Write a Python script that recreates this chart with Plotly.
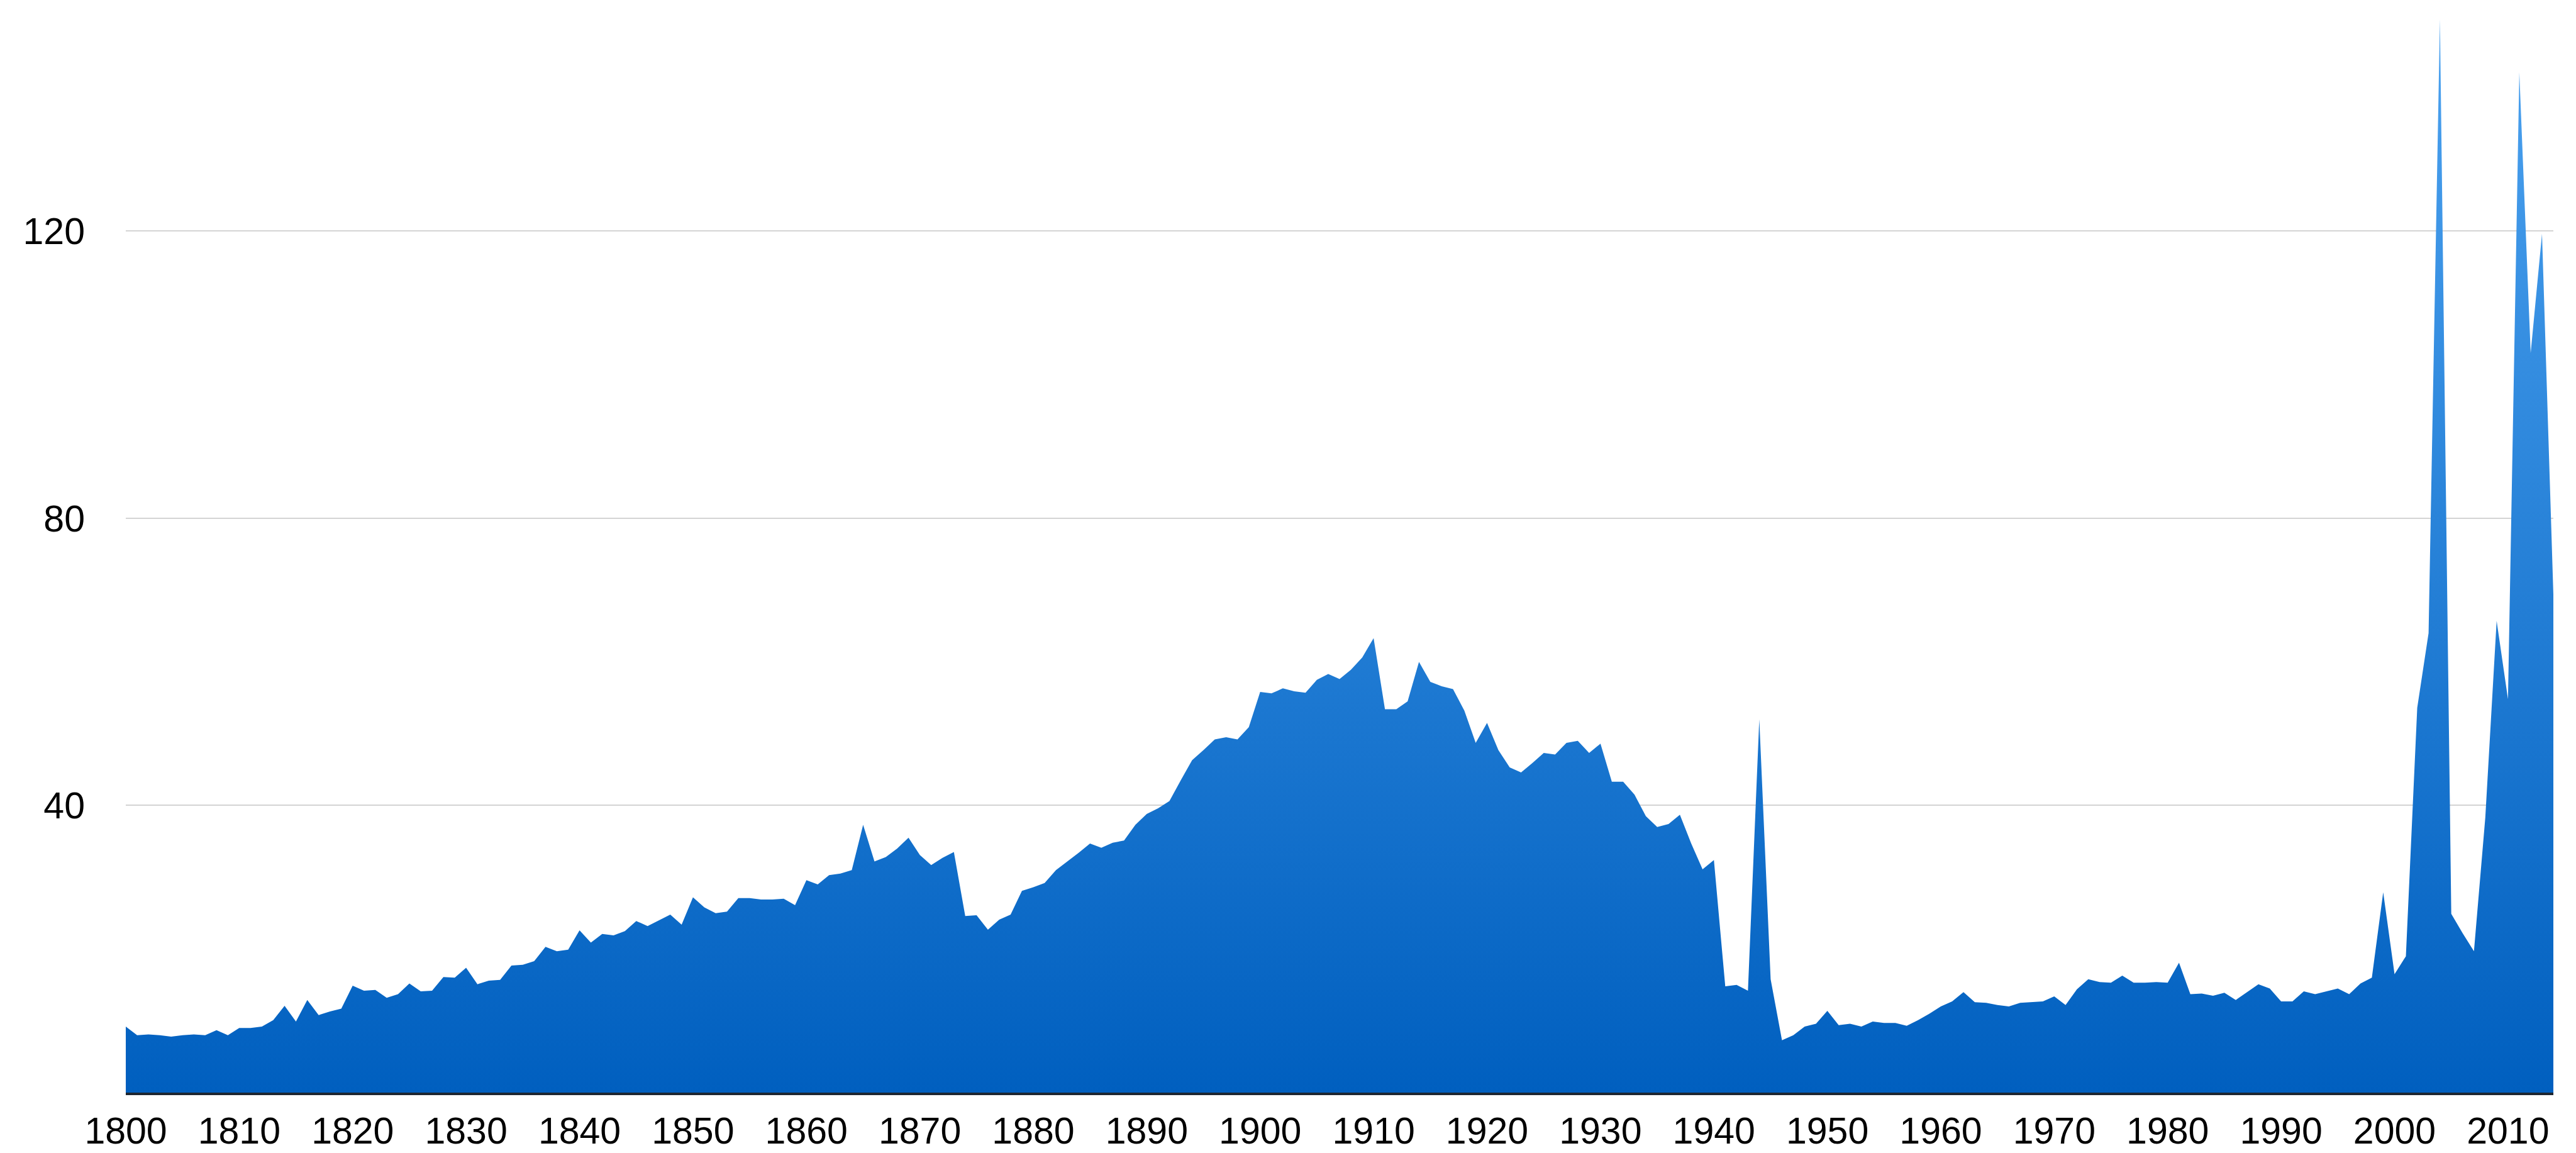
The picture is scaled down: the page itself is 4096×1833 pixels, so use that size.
import plotly.graph_objects as go

# ---- data ----
years = list(range(1800, 2015))

values_1800_1831 = [9.2, 8.0, 8.1, 8.0, 7.8, 8.0, 8.1, 8.0, 8.7, 8.0, 9.0, 9.0, 9.2, 10.1, 12.1, 9.9,
                    12.9, 10.8, 11.3, 11.7, 14.9, 14.2, 14.3, 13.2, 13.7, 15.2, 14.1, 14.2, 16.1, 16.0,
                    17.4, 15.1]
values_1832_1865 = [15.6, 15.7, 17.7, 17.8, 18.3, 20.3, 19.7, 19.9, 22.6, 20.9, 22.1, 21.9, 22.5, 23.9,
                    23.2, 24.0, 24.8, 23.4, 27.2, 25.8, 25.0, 25.2, 27.1, 27.1, 26.9, 26.9, 27.0, 26.1,
                    29.6, 29.0, 30.3, 30.5, 31.0, 37.3]
values_1866_1899 = [32.2, 32.8, 34.0, 35.5, 33.1, 31.7, 32.7, 33.5, 24.6, 24.7, 22.7, 24.1, 24.8, 28.1,
                    28.6, 29.2, 31.0, 32.2, 33.4, 34.7, 34.1, 34.8, 35.1, 37.3, 38.8, 39.6, 40.6, 43.5,
                    46.3, 47.7, 49.2, 49.5, 49.2, 50.9]
values_1900_1936 = [55.8, 55.6, 56.3, 55.9, 55.7, 57.5, 58.3, 57.6, 58.9, 60.6, 63.3, 53.4, 53.4, 54.5,
                    60.0, 57.2, 56.6, 56.2, 53.2, 48.7, 51.5, 47.7, 45.3, 44.6, 45.9, 47.3, 47.1, 48.7,
                    49.0, 47.3, 48.6, 43.3, 43.3, 41.5, 38.5, 37.0, 37.4]
values_1937_1972 = [38.7, 34.7, 31.1, 32.4, 14.8, 15.0, 14.2, 52.0, 15.8, 7.3, 8.0, 9.2, 9.6, 11.4, 9.4,
                    9.6, 9.2, 9.9, 9.7, 9.7, 9.3, 10.1, 11.0, 12.0, 12.7, 14.0, 12.6, 12.5, 12.2, 12.0,
                    12.5, 12.6, 12.7, 13.4, 12.2, 14.4]
values_1973_1997 = [15.8, 15.4, 15.3, 16.3, 15.3, 15.3, 15.4, 15.3, 18.1, 13.7, 13.8, 13.5, 13.9, 12.9,
                    14.0, 15.1, 14.5, 12.7, 12.7, 14.1, 13.7, 14.1, 14.5, 13.7, 15.2]
values_1998_2014 = [16.0, 27.9, 16.5, 19.0, 53.6, 64.0, 149.5, 24.9, 22.2, 19.7, 38.3, 65.7, 54.8, 142.1,
                    103.0, 119.6, 69.4]

values = (values_1800_1831 + values_1832_1865 + values_1866_1899 + values_1900_1936
          + values_1937_1972 + values_1973_1997 + values_1998_2014)

x_ticks = list(range(1800, 2011, 10))
y_ticks = [40, 80, 120]

FONT = "Liberation Sans, Arial, Helvetica, sans-serif"

fig = go.Figure()
fig.add_trace(go.Scatter(
    x=years,
    y=values,
    mode="lines",
    line=dict(width=0, color="#1f7ad6"),
    fill="tozeroy",
    fillgradient=dict(
        type="vertical",
        colorscale=[[0.0, "#005fbf"], [1.0, "#4da3f0"]],
        start=0,
        stop=150,
    ),
    hoverinfo="skip",
    showlegend=False,
))

fig.update_layout(
    width=4096,
    height=1833,
    margin=dict(l=192, r=44, t=10, b=98, pad=0),
    paper_bgcolor="white",
    plot_bgcolor="white",
    font=dict(family=FONT, size=59, color="black"),
    xaxis=dict(
        range=[1800, 2014],
        tickmode="array",
        tickvals=x_ticks,
        ticktext=[str(t) for t in x_ticks],
        showgrid=False,
        zeroline=False,
        showline=True,
        linecolor="#1e2630",
        linewidth=4,
        ticks="",
        ticklabelstandoff=6,
        tickfont=dict(family=FONT, size=59, color="black"),
    ),
    yaxis=dict(
        range=[0, 150.6],
        tickmode="array",
        tickvals=y_ticks,
        ticktext=[str(t) for t in y_ticks],
        showgrid=True,
        gridcolor="#d4d4d4",
        gridwidth=2,
        zeroline=False,
        showline=False,
        ticks="",
        ticklabelstandoff=64,
        tickfont=dict(family=FONT, size=59, color="black"),
    ),
)

fig.write_html("out.html")
